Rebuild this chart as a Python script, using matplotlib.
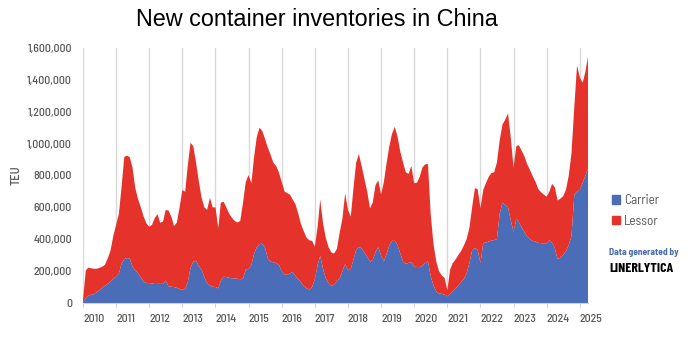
import numpy as np
import pandas as pd
import matplotlib
matplotlib.use("Agg")
import matplotlib.pyplot as plt
import matplotlib.dates as mdates
from matplotlib.patches import Patch
from matplotlib.ticker import FuncFormatter

# monthly new-container inventory in China, thousand TEU, Jan 2010 .. Apr 2025
carrier = [
    5, 29, 45, 52, 56, 68, 80, 98, 108, 120, 134, 152,            # 2010
    165, 186, 245, 275, 282, 280, 228, 205, 185, 160, 135, 125,   # 2011
    125, 123, 119, 120, 120, 120, 140, 105, 102, 100, 95, 88,     # 2012
    82, 88, 130, 220, 260, 265, 232, 210, 160, 125, 110, 102,     # 2013
    100, 92, 140, 165, 163, 158, 155, 155, 152, 149, 155, 210,    # 2014
    215, 238, 305, 350, 370, 372, 348, 280, 260, 255, 250, 240,   # 2015
    200, 180, 176, 185, 195, 170, 150, 130, 105, 92, 84, 100,     # 2016
    150, 240, 295, 215, 155, 125, 108, 115, 136, 155, 200, 245,   # 2017
    205, 215, 270, 330, 352, 343, 318, 290, 260, 270, 320, 350,   # 2018
    300, 262, 305, 360, 390, 390, 365, 310, 260, 245, 252, 258,   # 2019
    228, 226, 225, 235, 250, 262, 170, 110, 72, 60, 58, 52,       # 2020
    42, 55, 75, 90, 110, 130, 150, 185, 250, 330, 345, 335,       # 2021
    250, 375, 380, 385, 392, 395, 400, 560, 630, 615, 600, 520,   # 2022
    447, 530, 505, 475, 445, 418, 400, 390, 385, 378, 375, 375,   # 2023
    375, 395, 378, 342, 275, 285, 300, 325, 365, 420, 680, 700,   # 2024
    710, 755, 795, 845,                                           # 2025
]

lessor = [
    10, 176, 177, 166, 159, 147, 140, 130, 132, 160, 196, 268,    # 2010
    325, 374, 475, 640, 643, 635, 622, 515, 465, 440, 407, 375,   # 2011
    354, 367, 412, 438, 384, 390, 444, 475, 440, 383, 409, 512,   # 2012
    627, 610, 730, 786, 725, 615, 533, 450, 440, 460, 550, 498,   # 2013
    500, 378, 490, 470, 437, 402, 380, 360, 353, 366, 475, 550,   # 2014
    588, 513, 605, 690, 730, 708, 682, 695, 670, 625, 610, 580,   # 2015
    561, 520, 514, 495, 455, 450, 413, 365, 345, 318, 309, 290,   # 2016
    204, 240, 355, 285, 255, 225, 210, 195, 204, 285, 330, 443,   # 2017
    379, 327, 440, 550, 583, 517, 462, 410, 334, 360, 420, 420,   # 2018
    380, 498, 565, 620, 670, 715, 680, 640, 620, 575, 558, 602,   # 2019
    523, 529, 565, 615, 620, 610, 390, 260, 188, 140, 114, 106,   # 2020
    38, 155, 175, 182, 190, 195, 210, 215, 220, 270, 375, 380,    # 2021
    345, 335, 370, 405, 423, 425, 480, 460, 490, 535, 590, 520,   # 2022
    403, 455, 485, 480, 475, 452, 435, 405, 375, 337, 320, 305,   # 2023
    292, 305, 370, 383, 368, 370, 370, 385, 435, 520, 550, 790,   # 2024
    705, 627, 650, 700,                                           # 2025
]

months = pd.date_range("2010-01-01", periods=len(carrier), freq="MS")
carrier_teu = np.array(carrier) * 1000
lessor_teu = np.array(lessor) * 1000

BLUE = "#4b6cb7"
RED = "#e5322a"
GREY = "#555555"
narrow = ["Barlow Semi Condensed", "Roboto Condensed", "DejaVu Sans"]
logo = ["Barlow Condensed", "Roboto Condensed", "DejaVu Sans"]

fig = plt.figure(figsize=(7, 3.44), dpi=100)
ax = fig.add_axes([83 / 700, 1 - 303 / 344, 505 / 700, 255 / 344])

ax.stackplot(months, carrier_teu, lessor_teu, colors=[BLUE, RED], linewidth=0)

ax.set_xlim(months[0], months[-1])
ax.set_ylim(0, 1_600_000)
ax.set_yticks(np.arange(0, 1_600_001, 200_000))
ax.yaxis.set_major_formatter(FuncFormatter(lambda v, _: f"{int(v):,}"))
ax.xaxis.set_major_locator(mdates.YearLocator())
ax.xaxis.set_major_formatter(mdates.DateFormatter("%Y"))

ax.grid(axis="x", color="#d9d9d9", lw=1)
ax.set_axisbelow(True)
for side in ["top", "right", "left"]:
    ax.spines[side].set_visible(False)
ax.spines["bottom"].set_color("#c9d1e3")
ax.tick_params(axis="y", length=0, pad=8, labelsize=8.5, labelcolor=GREY)
ax.tick_params(axis="x", length=3, color="#c9d1e3", pad=5, labelsize=8.5, labelcolor=GREY)
for lbl in ax.get_xticklabels() + ax.get_yticklabels():
    lbl.set_family(narrow)
    lbl.set_fontweight("medium")
for lbl in ax.get_xticklabels():
    lbl.set_ha("left")

ax.set_ylabel("TEU", fontsize=9, color=GREY, family=narrow, fontweight="medium")
ax.yaxis.set_label_coords(-0.12, 0.5)

fig.text(0.453, 0.942, "New container inventories in China",
         ha="center", va="center", fontsize=16.8, family="Liberation Sans")

handles = [Patch(color=BLUE, label="Carrier"), Patch(color=RED, label="Lessor")]
fig.legend(handles=handles, loc="center left", bbox_to_anchor=(0.874, 0.387),
           frameon=False, borderpad=0, borderaxespad=0,
           handlelength=0.6, handleheight=0.6, handletextpad=0.3,
           labelspacing=0.55, prop={"family": narrow, "size": 9.5}, labelcolor=GREY)

fig.text(0.870, 0.267, "Data generated by", fontsize=6.8, color="#4b6cb0",
         fontweight="bold", family=narrow, va="center")
fig.text(0.870, 0.220, "LINERLYTICA", fontsize=10, color="black",
         fontweight="bold", family=logo, va="center")

fig.savefig("out.png", dpi=100)
